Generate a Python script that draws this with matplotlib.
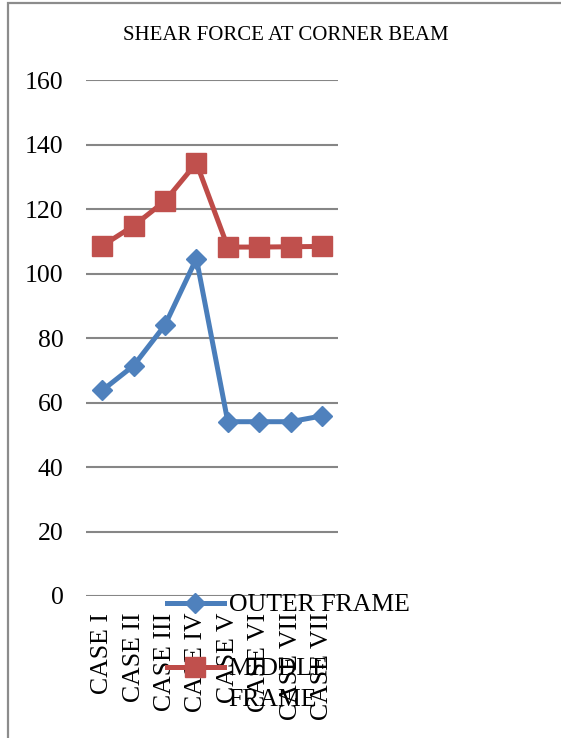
import matplotlib
matplotlib.use("Agg")
import matplotlib.pyplot as plt
from matplotlib.lines import Line2D
from matplotlib.patches import Rectangle

# --- data ---
cases = ["CASE I", "CASE II", "CASE III", "CASE IV",
         "CASE V", "CASE VI", "CASE VII", "CASE VII"]
outer_frame = [63.8, 71.5, 84.1, 104.7, 54.1, 54.1, 54.1, 55.9]
middle_frame = [108.7, 114.9, 122.6, 134.4, 108.3, 108.3, 108.4, 108.5]
y_ticks = [0, 20, 40, 60, 80, 100, 120, 140, 160]

W, H = 561, 738
plt.rcParams['font.family'] = ['Liberation Serif', 'DejaVu Serif']

fig = plt.figure(figsize=(W / 100, H / 100), dpi=100)

# plot area in pixel terms of the reference
left, right, top, bottom = 86.5, 337.7, 80.5, 596
ax = fig.add_axes([left / W, 1 - bottom / H, (right - left) / W, (bottom - top) / H])

x = list(range(len(cases)))
blue, blue_fill = '#4A7EBB', '#4F81BD'
red, red_fill = '#BE4B48', '#C0504D'
lw = 3.6

ax.plot(x, outer_frame, color=blue, lw=lw, marker='D', ms=10.5,
        mfc=blue_fill, mec=blue_fill, zorder=3)
ax.plot(x, middle_frame, color=red, lw=lw, marker='s', ms=14,
        mfc=red_fill, mec=red_fill, zorder=3)

ax.set_xlim(-0.5, len(cases) - 0.5)
ax.set_ylim(0, 160)
ax.set_yticks(y_ticks)
ax.set_xticks(x)
ax.set_xticklabels(cases, rotation=90, va='top', ha='center')
ax.grid(axis='y', color='#868686', lw=1.5)
ax.set_axisbelow(True)
for s in ax.spines.values():
    s.set_visible(False)
ax.tick_params(axis='both', length=0, labelsize=18.5)
ax.tick_params(axis='y', pad=16.5)
ax.tick_params(axis='x', pad=12)

# title
fig.text(286 / W, 1 - 36 / H, "SHEAR FORCE AT CORNER BEAM",
         ha='center', va='center', fontsize=15)

# legend (overlaps the category labels, like the original)
h_blue = Line2D([], [], color=blue, lw=lw, marker='D', ms=10.5,
                mfc=blue_fill, mec=blue_fill)
h_red = Line2D([], [], color=red, lw=lw, marker='s', ms=14,
               mfc=red_fill, mec=red_fill)
leg_kw = dict(loc='center left', frameon=False, borderpad=0, borderaxespad=0,
              handlelength=2.2, handletextpad=0.2, fontsize=18.5,
              bbox_transform=fig.transFigure)
leg1 = ax.legend([h_blue], ["OUTER FRAME"], bbox_to_anchor=(167 / W, 1 - 605 / H), **leg_kw)
ax.add_artist(leg1)
leg2 = ax.legend([h_red], ["MIDDLE"], bbox_to_anchor=(167 / W, 1 - 669 / H), **leg_kw)
for lg in (leg1, leg2):
    lg.set_zorder(5)
fig.text(228 / W, 1 - 700 / H, "FRAME", ha='left', va='center', fontsize=18.5)

# chart area border (runs off the right and bottom of the image)
fig.add_artist(Rectangle((7.5 / W, -0.2), 1.2, 1.2 - 3 / H,
                         transform=fig.transFigure, fill=False,
                         edgecolor='#8C8C8C', lw=1.6))

fig.savefig("out.png", dpi=100)
